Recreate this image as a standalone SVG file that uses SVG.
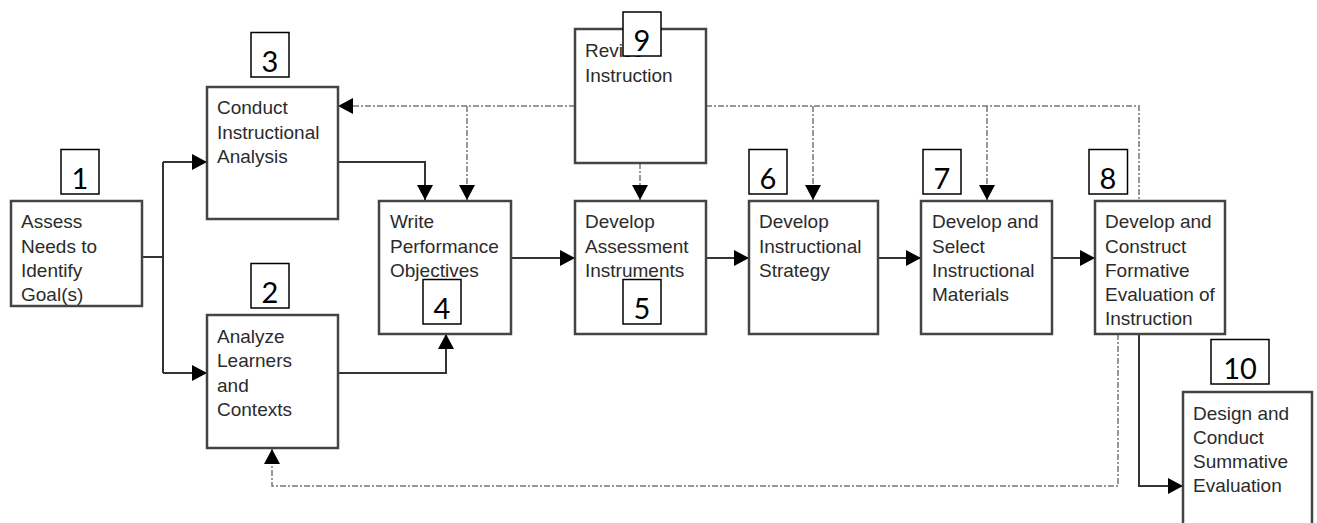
<svg xmlns="http://www.w3.org/2000/svg" width="1317" height="523" viewBox="0 0 1317 523">
<style>
.box{fill:#fff;stroke:#444;stroke-width:2.5}
.t{font-family:"Liberation Sans",Arial,sans-serif;font-size:19px;fill:#2b2b2b}
.lbl{fill:#fff;stroke:#000;stroke-width:1.5}
.n{font-family:Lato,"Liberation Sans",sans-serif;font-size:29px;fill:#000;text-anchor:middle}
.s{fill:none;stroke:#333;stroke-width:2}
.d{fill:none;stroke:#777;stroke-width:1.5;stroke-dasharray:6 2 2 2}
</style>
<defs>
<marker id="ah" markerUnits="userSpaceOnUse" markerWidth="16" markerHeight="16" refX="15" refY="8" orient="auto">
<path d="M0,0 L15,8 L0,16 z" fill="#000"/>
</marker>
</defs>
<g id="connectors">
<path class="s" d="M142,257 H163"/>
<path class="s" d="M163,162 V373"/>
<path class="s" d="M163,162 H207" marker-end="url(#ah)"/>
<path class="s" d="M163,373 H207" marker-end="url(#ah)"/>
<path class="s" d="M338,162 H425 V200" marker-end="url(#ah)"/>
<path class="s" d="M338,373 H446 V334" marker-end="url(#ah)"/>
<path class="s" d="M511,258 H575" marker-end="url(#ah)"/>
<path class="s" d="M706,258 H749" marker-end="url(#ah)"/>
<path class="s" d="M878,258 H921" marker-end="url(#ah)"/>
<path class="s" d="M1052,258 H1095" marker-end="url(#ah)"/>
<path class="s" d="M1139,334 V486 H1183" marker-end="url(#ah)"/>
<path class="d" d="M1118,334 V486 H272 V449" marker-end="url(#ah)"/>
<path class="d" d="M575,106 H338" marker-end="url(#ah)"/>
<path class="d" d="M467,106 V200" marker-end="url(#ah)"/>
<path class="d" d="M706,106 H1139 V200"/>
<path class="d" d="M813,106 V200" marker-end="url(#ah)"/>
<path class="d" d="M987,106 V200" marker-end="url(#ah)"/>
<path class="d" d="M640,163 V200" marker-end="url(#ah)"/>
</g>
<g id="node1">
<rect class="box" x="11" y="201" width="131" height="105"/>
<text class="t" x="21" y="228">Assess</text>
<text class="t" x="21" y="252.5">Needs to</text>
<text class="t" x="21" y="277">Identify</text>
<text class="t" x="21" y="301">Goal(s)</text>
<rect class="lbl" x="61" y="149.5" width="38" height="44.5"/>
<text class="n" x="80" y="189">1</text>
</g>
<g id="node3">
<rect class="box" x="207" y="87" width="131" height="132"/>
<text class="t" x="217" y="114">Conduct</text>
<text class="t" x="217" y="138.5">Instructional</text>
<text class="t" x="217" y="163">Analysis</text>
<rect class="lbl" x="251" y="32.5" width="38" height="44.5"/>
<text class="n" x="270" y="72">3</text>
</g>
<g id="node2">
<rect class="box" x="207" y="315" width="131" height="133"/>
<text class="t" x="217" y="343">Analyze</text>
<text class="t" x="217" y="367">Learners</text>
<text class="t" x="217" y="391.5">and</text>
<text class="t" x="217" y="416">Contexts</text>
<rect class="lbl" x="251" y="263.5" width="38" height="44.5"/>
<text class="n" x="270" y="303">2</text>
</g>
<g id="node4">
<rect class="box" x="379" y="201" width="132" height="133"/>
<text class="t" x="390" y="228">Write</text>
<text class="t" x="390" y="252.5">Performance</text>
<text class="t" x="390" y="277">Objectives</text>
<rect class="lbl" x="423" y="279.5" width="38" height="44.5"/>
<text class="n" x="442" y="319">4</text>
</g>
<g id="node9">
<rect class="box" x="575" y="29" width="131" height="134"/>
<text class="t" x="585" y="57">Revise</text>
<text class="t" x="585" y="82">Instruction</text>
<rect class="lbl" x="623" y="12" width="38" height="44"/>
<text class="n" x="642" y="51">9</text>
</g>
<g id="node5">
<rect class="box" x="575" y="201" width="131" height="133"/>
<text class="t" x="585" y="228">Develop</text>
<text class="t" x="585" y="252.5">Assessment</text>
<text class="t" x="585" y="277">Instruments</text>
<rect class="lbl" x="623" y="279.5" width="38" height="44.5"/>
<text class="n" x="642" y="319">5</text>
</g>
<g id="node6">
<rect class="box" x="749" y="201" width="129" height="133"/>
<text class="t" x="759" y="228">Develop</text>
<text class="t" x="759" y="252.5">Instructional</text>
<text class="t" x="759" y="277">Strategy</text>
<rect class="lbl" x="749" y="149.5" width="38" height="44.5"/>
<text class="n" x="768" y="189">6</text>
</g>
<g id="node7">
<rect class="box" x="921" y="201" width="131" height="133"/>
<text class="t" x="932" y="228">Develop and</text>
<text class="t" x="932" y="252.5">Select</text>
<text class="t" x="932" y="277">Instructional</text>
<text class="t" x="932" y="301">Materials</text>
<rect class="lbl" x="923" y="149.5" width="38" height="44.5"/>
<text class="n" x="942" y="189">7</text>
</g>
<g id="node8">
<rect class="box" x="1095" y="201" width="130" height="133"/>
<text class="t" x="1105" y="228">Develop and</text>
<text class="t" x="1105" y="252.5">Construct</text>
<text class="t" x="1105" y="277">Formative</text>
<text class="t" x="1105" y="301">Evaluation of</text>
<text class="t" x="1105" y="325">Instruction</text>
<rect class="lbl" x="1089" y="149.5" width="38.5" height="44.5"/>
<text class="n" x="1108" y="189">8</text>
</g>
<g id="node10">
<rect class="box" x="1183" y="392" width="129" height="140"/>
<text class="t" x="1193" y="420">Design and</text>
<text class="t" x="1193" y="444">Conduct</text>
<text class="t" x="1193" y="468">Summative</text>
<text class="t" x="1193" y="492">Evaluation</text>
<rect class="lbl" x="1211" y="339.5" width="58" height="44.5"/>
<text class="n" x="1240" y="379">10</text>
</g>
</svg>
